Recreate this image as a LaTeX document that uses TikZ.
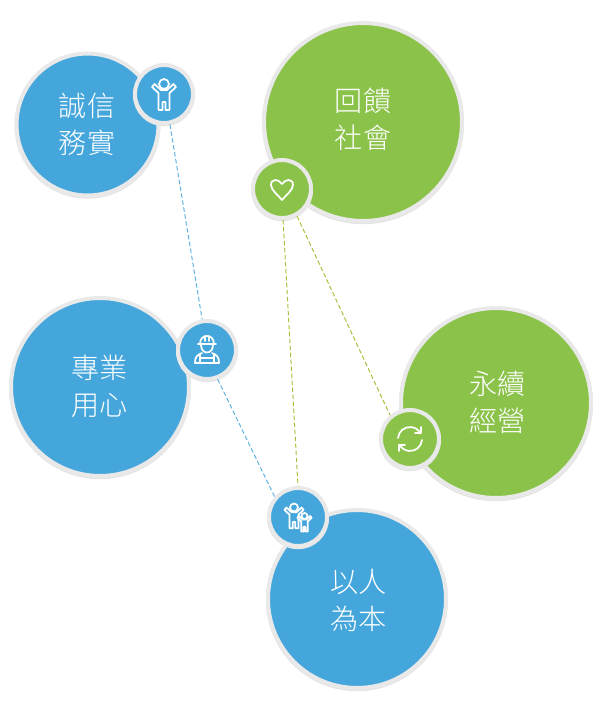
\documentclass[tikz,border=0pt]{standalone}
\usepackage{fontspec}
\newfontfamily\cjk[UprightFont=* Light]{Noto Sans CJK TC}
\definecolor{ringGray}{HTML}{E9E9E9}
\definecolor{valueBlue}{HTML}{45A6DC}
\definecolor{valueGreen}{HTML}{8BC34A}
\definecolor{linkGreen}{HTML}{A2C13A}
\definecolor{linkBlue}{HTML}{5BB2E2}
\tikzset{
	x=0.02cm, y=-0.02cm,
	baseDot/.style={circle, draw=ringGray, line width=0.08cm, inner sep=0pt, preaction={draw=black!10, line width=0.08cm, transform canvas={yshift=-0.025cm}}},
	bigDot/.style={baseDot},
	valueText/.style={text=white, align=center, font=\cjk\fontsize{16}{21}\selectfont},
	smallDot/.style={baseDot, minimum size=1.16cm},
	link/.style={dashed, dash pattern=on 0.09cm off 0.05cm, line width=0.55pt},
	iconLine/.style={draw=white, line width=1pt, line join=round, line cap=round},
	pics/personIcon/.style={code={
		\draw[iconLine, fill=valueBlue] (-5.5,16) -- (-5.5,-1) -- (-12,-7) -- (-9.5,-10) -- (-3,-4) -- (3,-4) -- (9.5,-10) -- (12,-7) -- (5.5,-1) -- (5.5,16) -- (1.5,16) -- (1.5,8) -- (-1.5,8) -- (-1.5,16) -- cycle;
		\draw[iconLine, fill=valueBlue] (0,-10) circle[radius=5];
	}},
	pics/workerIcon/.style={code={
		\draw[iconLine] (-9,-6) -- (9,-6);
		\draw[iconLine] (-7,-6) .. controls (-7,-11) and (-4,-14) .. (0,-14) .. controls (4,-14) and (7,-11) .. (7,-6);
		\draw[iconLine] (-6,-5) .. controls (-6,5) and (6,5) .. (6,-5);
		\draw[iconLine] (-5,3) .. controls (-10,5) and (-12,7) .. (-12,13) -- (12,13) .. controls (12,7) and (10,5) .. (5,3);
		\draw[iconLine] (-7,5) -- (-7,13) (7,5) -- (7,13) (-7,8) -- (7,8);
		\draw[iconLine] (-2,-14) -- (-2,-9) (2,-14) -- (2,-9);
	}},
	pics/heartIcon/.style={code={
		\draw[iconLine] (0,11) .. controls (-4,6) and (-11,1) .. (-11,-4) .. controls (-11,-11) and (-3,-10) .. (0,-5) .. controls (3,-10) and (11,-11) .. (11,-4) .. controls (11,1) and (4,6) .. (0,11) -- cycle;
	}},
	pics/refreshIcon/.style={code={
		\draw[iconLine] (-12,-1) arc[start angle=185, end angle=332, radius=12];
		\draw[iconLine] (12,1) arc[start angle=5, end angle=152, radius=12];
		\draw[iconLine] (5,-6) -- (11,-6) -- (11,-12);
		\draw[iconLine] (-5,6) -- (-11,6) -- (-11,12);
	}},
}
\begin{document}
\begin{tikzpicture}
	\useasboundingbox (0,0) rectangle (600,704);
	\node[bigDot, fill=valueBlue, minimum size=2.84cm](honestBox) at (87.5,124.5){};
	\node[bigDot, fill=valueBlue, minimum size=3.56cm](proBox) at (100,387){};
	\node[bigDot, fill=valueBlue, minimum size=3.56cm](peopleBox) at (357,599){};
	\node[bigDot, fill=valueGreen, minimum size=3.96cm](giveBox) at (363,122){};
	\node[bigDot, fill=valueGreen, minimum size=3.8cm](lastBox) at (496,403){};
	\node[valueText](honestText) at (87,124){誠信\\務實};
	\node[valueText](proText) at (100,386.5){專業\\用心};
	\node[valueText](peopleText) at (358.5,600){以人\\為本};
	\node[valueText](giveText) at (363,119){回饋\\社會};
	\node[valueText](lastText) at (497.5,402.5){永續\\經營};
	\node[smallDot, fill=valueBlue](honestDot) at (164,94){};
	\node[smallDot, fill=valueBlue](proDot) at (207,350){};
	\node[smallDot, fill=valueBlue](peopleDot) at (298,517){};
	\node[smallDot, fill=valueGreen](giveDot) at (282,189){};
	\node[smallDot, fill=valueGreen](lastDot) at (410,439){};
	\draw[link, linkBlue] (honestDot.-79) -- (proDot.99);
	\draw[link, linkBlue] (proDot.-70) -- (peopleDot.139);
	\draw[link, linkGreen] (giveDot.-88) -- (peopleDot.90);
	\draw[link, linkGreen] (giveDot.-61) -- (lastDot.130);
	\pic at (honestDot.center) {personIcon};
	\pic at (proDot.center) {workerIcon};
	\pic[scale=0.8] at (294,515.5) {personIcon};
	\pic[scale=0.6] at (304.5,522) {personIcon};
	\pic at (giveDot.center) {heartIcon};
	\pic at (lastDot.center) {refreshIcon};
\end{tikzpicture}
\end{document}
